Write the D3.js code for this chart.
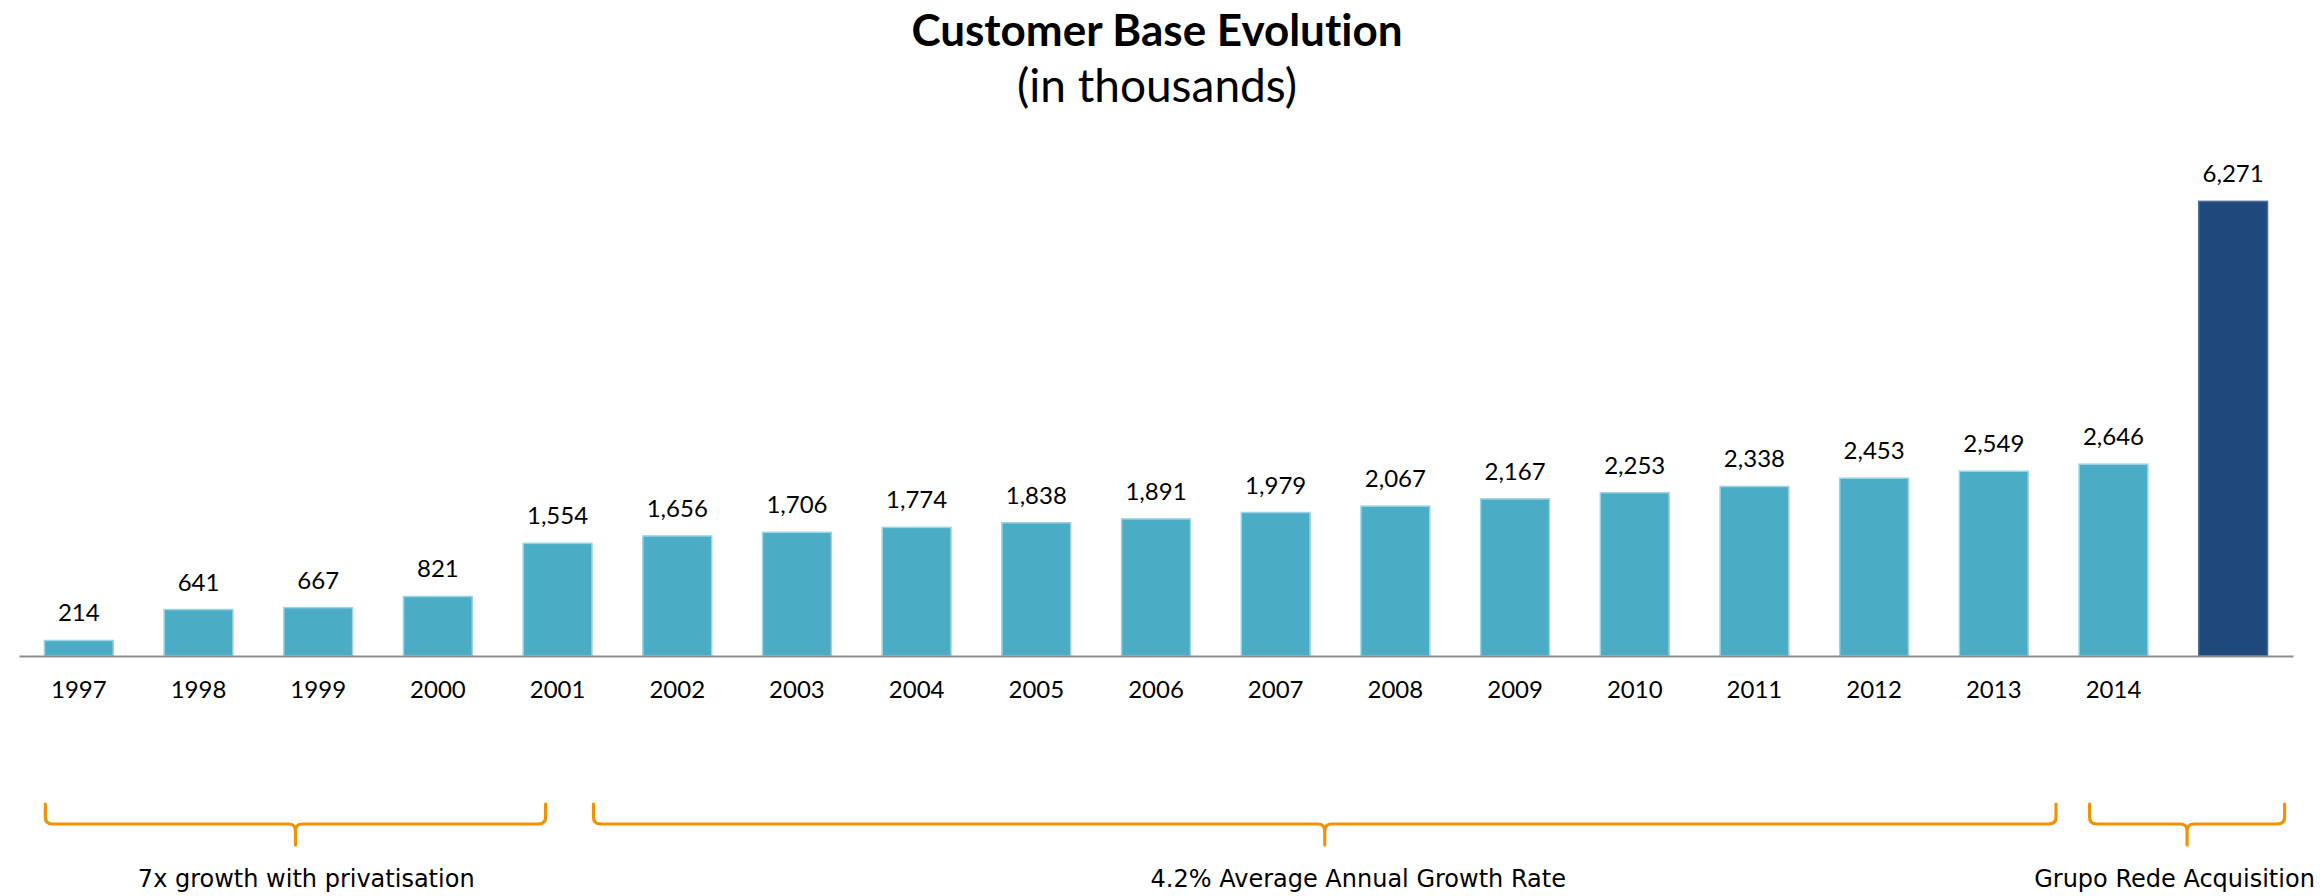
<!DOCTYPE html>
<html>
<head>
<meta charset="utf-8">
<script src="https://cdn.jsdelivr.net/npm/d3@7"></script>
<style>
  html, body { margin: 0; padding: 0; background: #ffffff; }
  svg { display: block; }
  text { font-variant-ligatures: none; font-feature-settings: "liga" 0, "clig" 0; }
</style>
</head>
<body>
<svg id="chart" width="2323" height="896"></svg>
<script>
// Customer base by year, in thousands; the final bar is the post-acquisition base
const categories = ["1997", "1998", "1999", "2000", "2001", "2002", "2003", "2004", "2005",
                    "2006", "2007", "2008", "2009", "2010", "2011", "2012", "2013", "2014", ""];
const customers = [214, 641, 667, 821, 1554, 1656, 1706, 1774, 1838,
                   1891, 1979, 2067, 2167, 2253, 2338, 2453, 2549, 2646, 6271];

// Period annotations, spans given in category-index units
const periodLabels = ["7x growth with privatisation", "4.2% Average Annual Growth Rate", "Grupo Rede Acquisition"];
const periodFrom = [-0.28, 4.3, 16.8];
const periodTo = [3.9, 16.52, 18.43];
const periodLabelAt = [1.9, 10.69, 17.51];

const W = 2323, H = 896;
const axisY = 656;
const svg = d3.select("#chart");

const x = d3.scaleBand()
  .domain(categories)
  .range([19, 2293])
  .paddingInner(0.425)
  .paddingOuter(0.2125);

const y = d3.scaleLinear()
  .domain([0, 7000])
  .range([axisY, axisY - 7000 * 0.0725]);

// index -> x position of band centres (used for the brackets)
const xi = d3.scaleLinear()
  .domain([0, categories.length - 1])
  .range([x(categories[0]) + x.bandwidth() / 2,
          x(categories[categories.length - 1]) + x.bandwidth() / 2]);

const lastIdx = customers.length - 1;

// Title
svg.append("text")
  .attr("x", 1157).attr("y", 46)
  .attr("text-anchor", "middle")
  .style("font-family", "Lato, sans-serif")
  .style("font-weight", "700")
  .style("font-size", "44px")
  .attr("fill", "#000")
  .text("Customer Base Evolution");

svg.append("text")
  .attr("x", 1157).attr("y", 102)
  .attr("text-anchor", "middle")
  .style("font-family", "Lato, sans-serif")
  .style("font-size", "46px")
  .attr("fill", "#000")
  .text("(in thousands)");

// Bars
const data = categories.map((c, i) => ({ cat: c, value: customers[i], i }));

svg.append("g").selectAll("rect")
  .data(data)
  .join("rect")
  .attr("x", d => x(d.cat))
  .attr("y", d => y(d.value))
  .attr("width", x.bandwidth())
  .attr("height", d => y(0) - y(d.value))
  .attr("fill", d => d.i === lastIdx ? "#1f497d" : "#4bacc6")
  .attr("stroke", d => d.i === lastIdx ? "#4f6f98" : "#9dd4e3")
  .attr("stroke-width", 1.5);

// Value labels
svg.append("g").selectAll("text")
  .data(data)
  .join("text")
  .attr("x", d => x(d.cat) + x.bandwidth() / 2)
  .attr("y", d => y(d.value) - 19)
  .attr("text-anchor", "middle")
  .style("font-family", "Lato, sans-serif")
  .style("font-size", "24px")
  .attr("fill", "#000")
  .text(d => d3.format(",")(d.value));

// Category axis
const axis = svg.append("g")
  .attr("transform", `translate(0,${axisY})`)
  .call(d3.axisBottom(x).tickSize(0).tickSizeOuter(0).tickPadding(25));

axis.select(".domain")
  .attr("stroke", "#8f8f8f")
  .attr("stroke-width", 2);

axis.selectAll(".tick text")
  .style("font-family", "Lato, sans-serif")
  .style("font-size", "24px")
  .attr("fill", "#000");

// Period brackets
const bTop = 804, bLine = 824, bTip = 845, r = 7;
const bracket = svg.append("g")
  .attr("fill", "none")
  .attr("stroke", "#f39200")
  .attr("stroke-width", 3.2)
  .attr("stroke-linecap", "round")
  .attr("stroke-linejoin", "round");

periodLabels.forEach((label, k) => {
  const xa = xi(periodFrom[k]);
  const xb = xi(periodTo[k]);
  const xm = (xa + xb) / 2;
  const p = d3.path();
  p.moveTo(xa, bTop);
  p.lineTo(xa, bLine - r);
  p.quadraticCurveTo(xa, bLine, xa + r, bLine);
  p.lineTo(xm - r, bLine);
  p.quadraticCurveTo(xm, bLine, xm, bLine + r);
  p.lineTo(xm, bTip);
  p.moveTo(xb, bTop);
  p.lineTo(xb, bLine - r);
  p.quadraticCurveTo(xb, bLine, xb - r, bLine);
  p.lineTo(xm + r, bLine);
  p.quadraticCurveTo(xm, bLine, xm, bLine + r);
  bracket.append("path").attr("d", p.toString());

  svg.append("text")
    .attr("x", xi(periodLabelAt[k]))
    .attr("y", 887)
    .attr("text-anchor", "middle")
    .style("font-family", "'DejaVu Sans', sans-serif")
    .style("font-size", "24px")
    .attr("fill", "#000")
    .text(label);
});
</script>
</body>
</html>
